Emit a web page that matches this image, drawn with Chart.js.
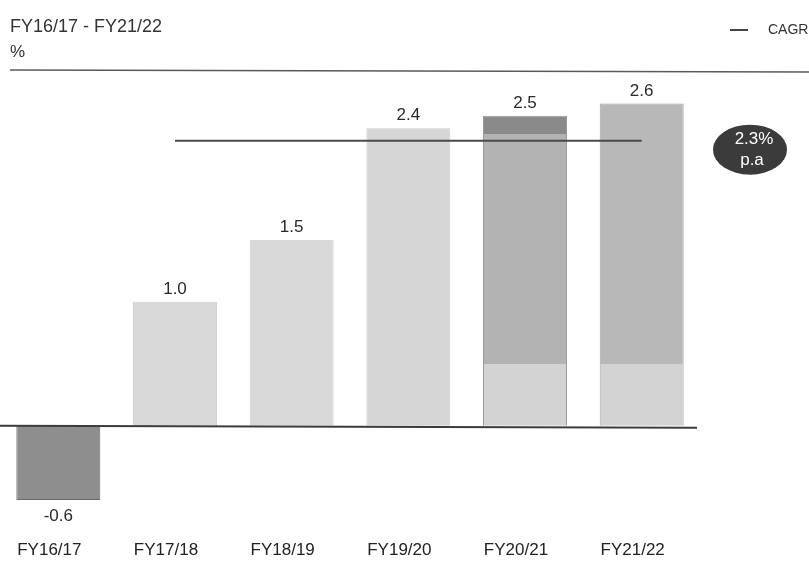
<!DOCTYPE html>
<html>
<head>
<meta charset="utf-8">
<script src="https://cdn.jsdelivr.net/npm/chart.js@4.4.1/dist/chart.umd.min.js"></script>
<style>
  html, body { margin: 0; padding: 0; background: #ffffff; }
  #wrap { width: 809px; height: 573px; }
</style>
</head>
<body>
<div id="wrap"><canvas id="c" width="809" height="573"></canvas></div>
<script>
// ---- data ----
const categories = ["FY16/17", "FY17/18", "FY18/19", "FY19/20", "FY20/21", "FY21/22"];
const growthValues = [-0.6, 1.0, 1.5, 2.4, 2.5, 2.6];
const valueLabels = ["-0.6", "1.0", "1.5", "2.4", "2.5", "2.6"];
const cagrValues = [null, 2.3, 2.3, 2.3, 2.3, 2.3];
const cagrLabel = "CAGR";
const cagrBadge = ["2.3%", "p.a"];
const titleText = "FY16/17 - FY21/22";
const unitText = "%";
// lighter base segment shown in the last two bars (value up to which the base is lighter)
const baseSegment = [null, null, null, null, 0.5, 0.5];
// darker cap segment on FY20/21 (value from which the cap starts)
const capSegment = [null, null, null, null, 2.35, null];

// ---- styles ----
const solidColors = ["#8e8e8e", "#d9d9d9", "#d9d9d9", "#d6d6d6", "#b3b3b3", "#b8b8b8"];
const borderColors = ["#6a6a6a", "#d0d0d0", "#d0d0d0", "#cccccc", "#9a9a9a", "#a0a0a0"];
const FONT = "'Liberation Sans', Arial, sans-serif";

function barFill(ctx) {
  const chart = ctx.chart;
  const i = ctx.dataIndex;
  const base = solidColors[i];
  if (!chart.chartArea || (baseSegment[i] == null && capSegment[i] == null)) return base;
  const y = chart.scales.y;
  const y0 = y.getPixelForValue(0);
  const yTop = y.getPixelForValue(growthValues[i]);
  if (!isFinite(y0) || !isFinite(yTop) || y0 === yTop) return base;
  const g = chart.ctx.createLinearGradient(0, y0, 0, yTop);
  const total = growthValues[i];
  if (baseSegment[i] != null) {
    const f = baseSegment[i] / total;
    g.addColorStop(0, "#d3d3d3");
    g.addColorStop(f, "#d3d3d3");
    g.addColorStop(Math.min(1, f + 0.0001), base);
  } else {
    g.addColorStop(0, base);
  }
  if (capSegment[i] != null) {
    const c = capSegment[i] / total;
    g.addColorStop(c, base);
    g.addColorStop(Math.min(1, c + 0.0001), "#8a8a8a");
    g.addColorStop(1, "#8a8a8a");
  } else {
    g.addColorStop(1, base);
  }
  return g;
}

const decorPlugin = {
  id: "decor",
  beforeDatasetsDraw(chart) {
    const ctx = chart.ctx;
    ctx.save();
    // top rule
    ctx.strokeStyle = "#5a5a5a";
    ctx.lineWidth = 1.5;
    ctx.beginPath();
    ctx.moveTo(10, 70);
    ctx.lineTo(809, 72);
    ctx.stroke();
    ctx.restore();
  },
  afterDatasetsDraw(chart) {
    const ctx = chart.ctx;
    const ca = chart.chartArea;
    const y = chart.scales.y;
    const meta = chart.getDatasetMeta(0);
    ctx.save();
    // zero line
    const y0 = y.getPixelForValue(0);
    ctx.strokeStyle = "#3c3c3c";
    ctx.lineWidth = 2;
    ctx.beginPath();
    ctx.moveTo(0, y0);
    ctx.lineTo(ca.right - 3, y0 + 2);
    ctx.stroke();

    // value labels
    ctx.fillStyle = "#2a2a2a";
    ctx.font = "17px " + FONT;
    ctx.textAlign = "center";
    meta.data.forEach((bar, i) => {
      const v = growthValues[i];
      if (v >= 0) {
        ctx.textBaseline = "bottom";
        ctx.fillText(valueLabels[i], bar.x, bar.y - 4);
      } else {
        ctx.textBaseline = "top";
        ctx.fillText(valueLabels[i], bar.x, bar.y + 8);
      }
    });

    // title
    ctx.textAlign = "left";
    ctx.textBaseline = "middle";
    ctx.fillStyle = "#333333";
    ctx.font = "18px " + FONT;
    ctx.fillText(titleText, 10, 27);
    ctx.font = "17px " + FONT;
    ctx.fillText(unitText, 10, 52);

    // legend
    ctx.strokeStyle = "#444444";
    ctx.lineWidth = 2;
    ctx.beginPath();
    ctx.moveTo(730, 30);
    ctx.lineTo(748, 30);
    ctx.stroke();
    ctx.font = "14px " + FONT;
    ctx.fillStyle = "#333333";
    ctx.fillText(cagrLabel, 768, 30);

    // badge
    const by = y.getPixelForValue(cagrValues[cagrValues.length - 1]) + 9;
    const bx = 750;
    ctx.fillStyle = "#3b3b3b";
    ctx.beginPath();
    ctx.ellipse(bx, by, 37, 25, 0, 0, Math.PI * 2);
    ctx.fill();
    ctx.fillStyle = "#ffffff";
    ctx.textAlign = "center";
    ctx.font = "17px " + FONT;
    ctx.fillText(cagrBadge[0], bx + 4, by - 10);
    ctx.fillText(cagrBadge[1], bx + 2, by + 11);
    ctx.restore();
  }
};

new Chart(document.getElementById("c"), {
  data: {
    labels: categories,
    datasets: [
      {
        type: "bar",
        label: "Growth",
        data: growthValues,
        backgroundColor: barFill,
        borderColor: borderColors,
        borderWidth: 1,
        barPercentage: 0.72,
        categoryPercentage: 1,
        order: 1
      },
      {
        type: "line",
        label: cagrLabel,
        data: cagrValues,
        borderColor: "#4a4a4a",
        borderWidth: 2,
        pointRadius: 0,
        fill: false,
        tension: 0,
        order: 0
      }
    ]
  },
  options: {
    responsive: false,
    devicePixelRatio: 1,
    animation: false,
    layout: { padding: { top: 70, left: -6, right: 109, bottom: 0 } },
    plugins: {
      legend: { display: false },
      title: { display: false },
      tooltip: { enabled: false }
    },
    scales: {
      x: {
        type: "category",
        grid: { display: false, drawTicks: false },
        border: { display: false },
        afterFit(scale) { scale.height = 63; scale.paddingLeft = 0; },
        ticks: {
          color: "#222222",
          font: { family: FONT, size: 17 },
          padding: 30,
          labelOffset: -9,
          maxRotation: 0,
          autoSkip: false
        }
      },
      y: {
        display: false,
        min: -0.68,
        max: 2.87
      }
    }
  },
  plugins: [decorPlugin]
});
</script>
</body>
</html>
